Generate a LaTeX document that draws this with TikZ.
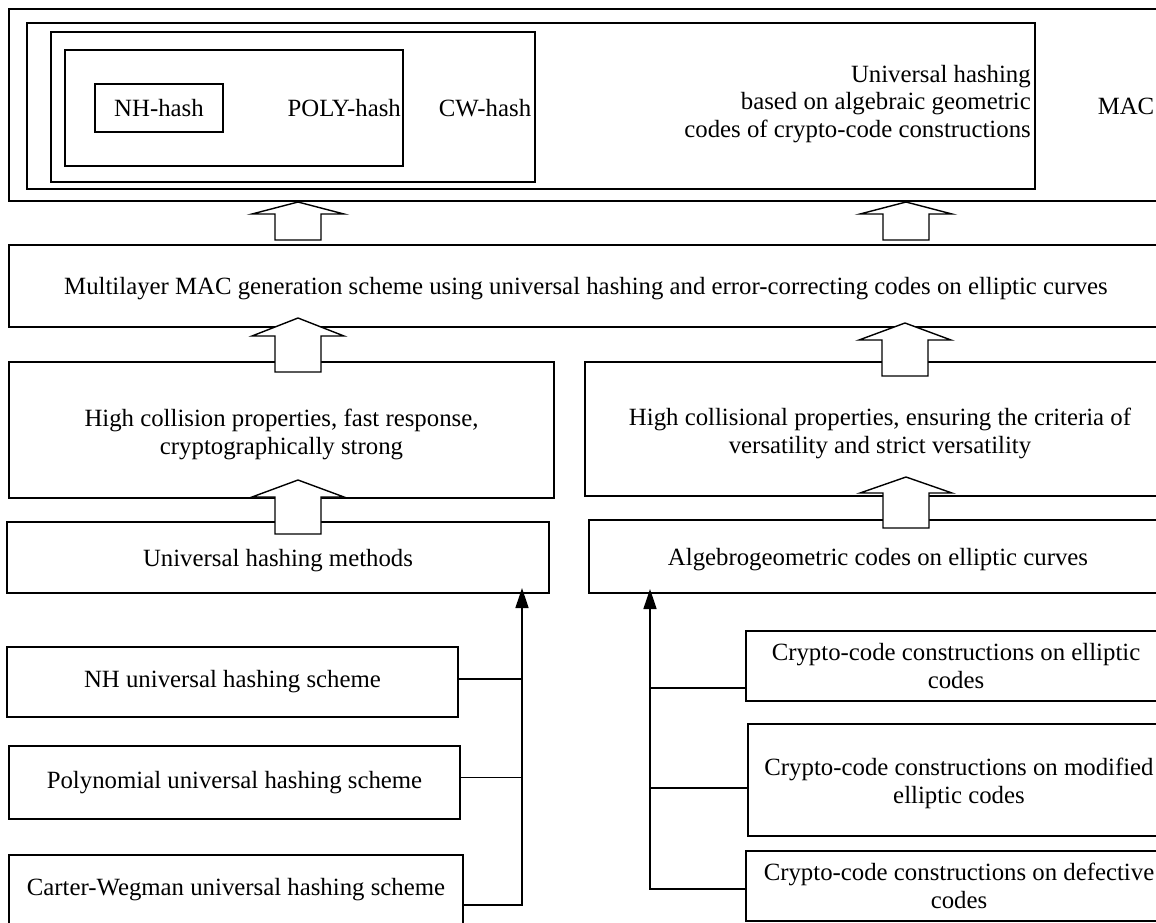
\documentclass[tikz,border=0pt]{standalone}
\usepackage{fontspec}
\setmainfont{Liberation Serif}
\usetikzlibrary{arrows.meta}
\tikzset{
  box/.style={draw, line width=1.4pt, inner sep=0pt, align=center},
  lbl/.style={inner sep=0pt, align=center},
  blk/.style={draw, fill=white, line width=1.4pt},
  conn/.style={line width=1.4pt},
  connarrow/.style={conn, -{Triangle[length=20pt,width=13pt]}},
}
\newcommand\BlkArrow[4]{\path[blk] (#1,#2) -- (#1+46,#3) -- (#1+23,#3) -- (#1+23,#4) -- (#1-23,#4) -- (#1-23,#3) -- (#1-46,#3) -- cycle;}
\begin{document}
\begin{tikzpicture}[x=1pt,y=-1pt,font=\fontsize{24.8}{28}\selectfont]
\useasboundingbox (0,0) rectangle (1156,922);
\clip (0,0) rectangle (1156,922);
% top nested boxes
\node[box, minimum width=1154pt, minimum height=192pt] (outer) at (586,105) {};
\node[box, minimum width=1008pt, minimum height=166pt] (uhag) at (531,106) {};
\node[box, minimum width=484pt, minimum height=150pt] (cwbox) at (293,107) {};
\node[box, minimum width=338pt, minimum height=116pt] (polybox) at (234,108) {};
\node[box, minimum width=128pt, minimum height=48pt] (nhbox) at (159,108) {NH-hash};
\node[lbl, anchor=east] (polytxt) at (401,108) {POLY-hash};
\node[lbl] (cwtxt) at (485,108) {CW-hash};
\node[lbl, anchor=east, align=right, font=\fontsize{24.8}{27.5}\selectfont] (uhagtxt) at (1031,104) {Universal hashing\\based on algebraic geometric\\codes of crypto-code constructions};
\node[lbl] (mactxt) at (1126,106) {MAC};
% middle
\node[box, minimum width=1154pt, minimum height=82pt] (multi) at (586,286) {};
\node[lbl] (multiT) at ([yshift=-3pt]multi.center) {Multilayer MAC generation scheme using universal hashing and error-correcting codes on elliptic curves};
\node[box, minimum width=545pt, minimum height=136pt] (hcl) at (281.5,430) {};
\node[lbl] (hclT) at ([yshift=-4pt]hcl.center) {High collision properties, fast response,\\cryptographically strong};
\node[box, minimum width=590pt, minimum height=134pt] (hcr) at (880,429) {};
\node[lbl] (hcrT) at ([yshift=-4pt]hcr.center) {High collisional properties, ensuring the criteria of\\versatility and strict versatility};
\node[box, minimum width=542pt, minimum height=71pt] (uhm) at (278,557.5) {};
\node[lbl] (uhmT) at ([yshift=-3pt]uhm.center) {Universal hashing methods};
\node[box, minimum width=578pt, minimum height=73pt] (ag) at (878,556.5) {};
\node[lbl] (agT) at ([yshift=-3pt]ag.center) {Algebrogeometric codes on elliptic curves};
% bottom left
\node[box, minimum width=451pt, minimum height=70pt] (nhs) at (232.5,682) {NH universal hashing scheme};
\node[box, minimum width=451pt, minimum height=73pt] (polys) at (234.5,782.5) {Polynomial universal hashing scheme};
\node[box, minimum width=454pt, minimum height=70pt] (cws) at (236,890) {Carter-Wegman universal hashing scheme};
% bottom right
\node[box, minimum width=420pt, minimum height=70pt] (ce) at (956,666) {Crypto-code constructions on elliptic\\codes};
\node[box, minimum width=422pt, minimum height=112pt] (mod) at (959,780) {};
\node[lbl] (modT) at ([yshift=-3pt]mod.center) {Crypto-code constructions on modified\\elliptic codes};
\node[box, minimum width=426pt, minimum height=70pt] (def) at (959,886) {Crypto-code constructions on defective\\codes};
% block arrows
\BlkArrow{298}{202}{214}{240}
\BlkArrow{298}{318}{336}{372}
\BlkArrow{298}{480}{497}{534}
\BlkArrow{906}{202}{214}{240}
\BlkArrow{905}{323}{340}{376}
\BlkArrow{906}{477}{493}{528}
% connectors left
\coordinate (jL) at (522,593);
\coordinate (nhL) at ([yshift=3pt]nhs.east);
\coordinate (polyL) at ([yshift=5pt]polys.east);
\coordinate (cwL) at ([yshift=-15pt]cws.east);
\draw[connarrow, shorten >=-5pt] (cwL) -| (jL);
\draw[conn] (nhL) -- (nhL -| jL);
\draw[conn] (polyL) -- (polyL -| jL);
% connectors right
\coordinate (jR) at (650,593);
\coordinate (ceR) at ([yshift=-22pt]ce.west);
\coordinate (modR) at ([yshift=-8pt]mod.west);
\coordinate (defR) at ([yshift=-3pt]def.west);
\draw[connarrow, shorten >=-4pt] (defR) -| (jR);
\draw[conn] (ceR) -- (ceR -| jR);
\draw[conn] (modR) -- (modR -| jR);
\end{tikzpicture}
\end{document}
